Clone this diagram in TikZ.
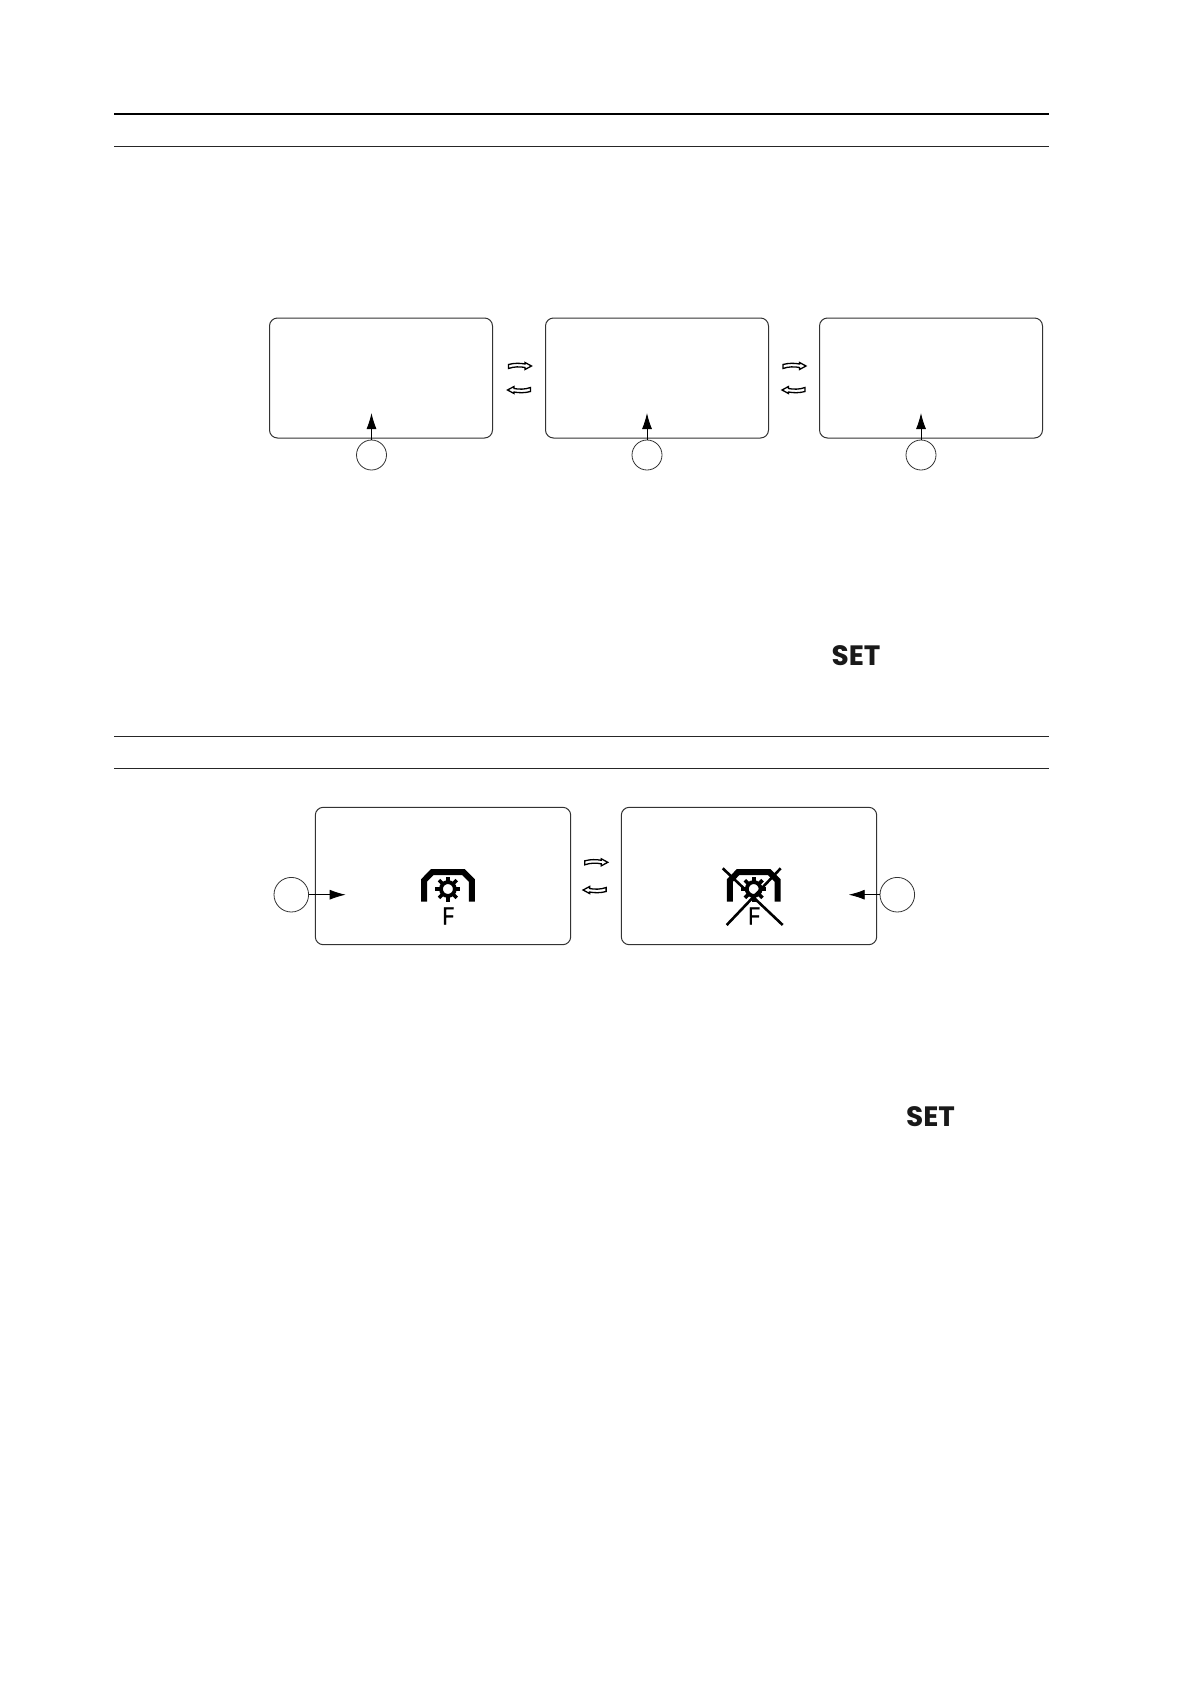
\documentclass[tikz,border=0pt]{standalone}
\usepackage{fontspec}
\setmainfont{Open Sans}
\newfontfamily\setfont{Poppins}
\newfontfamily\iconfont[FakeBold=0.7]{Open Sans}
\usetikzlibrary{arrows.meta}
\tikzset{
  x=1pt,y=-1pt,
  rulethin/.style={line width=1pt,black!85},
  rulethick/.style={line width=1.7pt,black},
  screen/.style={draw=black!80,line width=1pt,rounded corners=8pt,minimum width=#1,inner sep=0pt,outer sep=0pt},
  callout/.style={circle,draw=black!80,line width=0.8pt,inner sep=0pt,outer sep=0pt,minimum size=#1},
  pointer/.style={draw=black,line width=0.9pt,-{Latex[length=16pt,width=10pt]}},
  setlabel/.style={inner sep=0pt,font=\setfont\bfseries\fontsize{28}{28}\selectfont,text=black!90},
  flabel/.style={inner sep=0pt,font=\iconfont\fontsize{24}{24}\selectfont},
  hollow/.style={draw=black,line width=1.3pt,fill=white,line join=miter},
  pics/rightarrow/.style={code={
    \path[hollow] (-11.5,-1.5) .. controls (-6,-3) and (0,-3) .. (5,-2) -- (5,-3.5) -- (11.5,0) -- (5,3.5) -- (5,1.5)
      .. controls (0,0.5) and (-6,0.5) .. (-11.5,2.5) -- cycle;
  }},
  pics/leftarrow/.style={code={
    \path[hollow] (11.5,1.5) .. controls (6,3) and (0,3) .. (-5,2) -- (-5,3.5) -- (-11.5,0) -- (-5,-3.5) -- (-5,-1.5)
      .. controls (0,-0.5) and (6,-0.5) .. (11.5,-2.5) -- cycle;
  }},
  pics/gearicon/.style={code={
    \draw[line width=6pt,black,line cap=butt,line join=miter] (-23.9,32.7) -- (-23.9,11.5) -- (-15.5,3) -- (15.5,3) -- (23.9,11.5) -- (23.9,32.7);
    \draw[line width=3.8pt,black] (0,20) circle (6.9);
    \foreach \a in {0,45,...,315}{
      \draw[line width=3.6pt,black] (0,20) ++(\a:8) -- ++(\a:4.5);
    }
    \node[flabel] at (0,47) {F};
  }}
}
\begin{document}
\begin{tikzpicture}
\useasboundingbox[fill=white] (0,0) rectangle (1191,1684);
% rules
\coordinate (r1a) at (114,114); \coordinate (r1b) at (1048.5,114);
\coordinate (r2a) at (114,146.5); \coordinate (r2b) at (1048.5,146.5);
\coordinate (r3a) at (114,736.5); \coordinate (r3b) at (1048.5,736.5);
\coordinate (r4a) at (114,768); \coordinate (r4b) at (1048.5,768);
\draw[rulethick] (r1a) -- (r1b);
\draw[rulethin] (r2a) -- (r2b);
\draw[rulethin] (r3a) -- (r3b);
\draw[rulethin] (r4a) -- (r4b);
% top row
\node[screen=223pt,minimum height=120pt] (s1) at (381,378) {};
\node[screen=223pt,minimum height=120pt] (s2) at (657,378) {};
\node[screen=223pt,minimum height=120pt] (s3) at (931,378) {};
\node[callout=30pt] (c1) at (371.5,455) {};
\node[callout=30pt] (c2) at (647,455) {};
\node[callout=30pt] (c3) at (921,455) {};
\coordinate (t1) at (371.5,413);
\coordinate (t2) at (647,413);
\coordinate (t3) at (921,413);
\draw[pointer] (c1) -- (t1);
\draw[pointer] (c2) -- (t2);
\draw[pointer] (c3) -- (t3);
\pic at (520,366) {rightarrow};
\pic at (519,390) {leftarrow};
\pic at (794.5,366) {rightarrow};
\pic at (793.5,390) {leftarrow};
\node[setlabel] (set1) at (856,656) {SET};
% bottom row
\node[screen=255.4pt,minimum height=137.4pt] (b1) at (443,876) {};
\node[screen=255.4pt,minimum height=137.4pt] (b2) at (749,876) {};
\node[callout=34.6pt] (c4) at (291.3,894.7) {};
\node[callout=34.6pt] (c5) at (897.3,894.7) {};
\coordinate (t4) at (345.7,894.7);
\coordinate (t5) at (848.7,894.7);
\draw[pointer] (c4) -- (t4);
\draw[pointer] (c5) -- (t5);
\pic at (596.3,862.3) {rightarrow};
\pic at (594.6,890) {leftarrow};
\pic at (447.9,869) {gearicon};
\pic at (753.7,869) {gearicon};
\coordinate (x1a) at (722.7,868.3); \coordinate (x1b) at (782.7,925);
\coordinate (x2a) at (780.7,868.3); \coordinate (x2b) at (726.7,925);
\draw[line width=2.6pt,black] (x1a) -- (x1b);
\draw[line width=2.6pt,black] (x2a) -- (x2b);
\node[setlabel] (set2) at (930.5,1117) {SET};
\end{tikzpicture}
\end{document}
